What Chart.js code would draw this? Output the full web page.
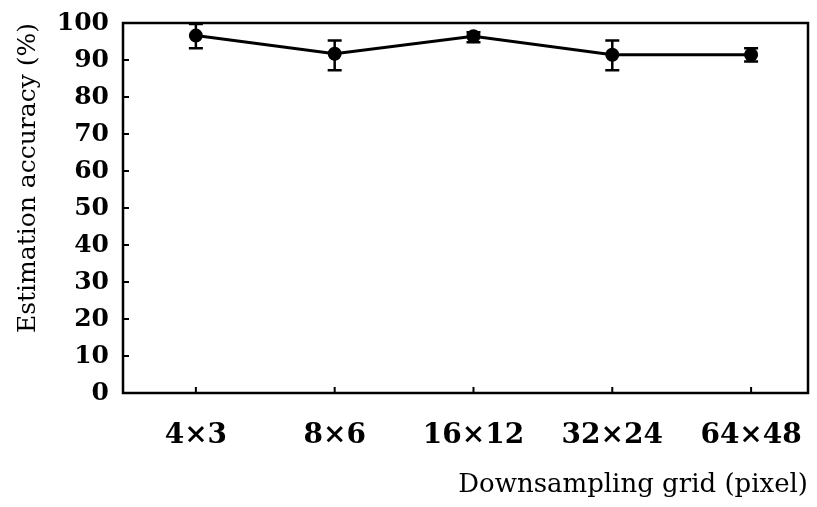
<!DOCTYPE html>
<html>
<head>
<meta charset="utf-8">
<script src="https://cdn.jsdelivr.net/npm/chart.js@4.4.0/dist/chart.umd.min.js"></script>
<style>
  html, body { margin: 0; padding: 0; background: #fff; }
  #wrap { width: 817px; height: 507px; }
</style>
</head>
<body>
<div id="wrap"><canvas id="accChart"></canvas></div>
<script>
var grids = ['4×3', '8×6', '16×12', '32×24', '64×48'];
var accuracy = [96.6, 91.7, 96.4, 91.4, 91.4];
var errHigh = [99.7, 95.3, 97.5, 95.3, 93.2];
var errLow = [93.2, 87.2, 94.8, 87.2, 89.6];
var yTicks = [0, 10, 20, 30, 40, 50, 60, 70, 80, 90, 100];

// error bars, frame and inward tick marks drawn with the chart's scales
var extras = {
    id: 'extras',
    beforeDatasetsDraw: function (chart) {
        var ctx = chart.ctx, xs = chart.scales.x, ys = chart.scales.y;
        ctx.save();
        ctx.strokeStyle = '#000';
        ctx.lineWidth = 2.5;
        for (var i = 0; i < grids.length; i++) {
            var px = xs.getPixelForValue(i);
            var top = ys.getPixelForValue(errHigh[i]);
            var bot = ys.getPixelForValue(errLow[i]);
            ctx.beginPath();
            ctx.moveTo(px, top); ctx.lineTo(px, bot);
            ctx.moveTo(px - 7, top); ctx.lineTo(px + 7, top);
            ctx.moveTo(px - 7, bot); ctx.lineTo(px + 7, bot);
            ctx.stroke();
        }
        ctx.restore();
    },
    afterDraw: function (chart) {
        var ctx = chart.ctx, a = chart.chartArea, xs = chart.scales.x, ys = chart.scales.y;
        ctx.save();
        ctx.strokeStyle = '#000';
        ctx.lineWidth = 2.5;
        ctx.strokeRect(a.left, a.top, a.right - a.left, a.bottom - a.top);
        ctx.lineWidth = 2;
        ctx.beginPath();
        yTicks.forEach(function (v) {
            var py = ys.getPixelForValue(v);
            ctx.moveTo(a.left, py); ctx.lineTo(a.left + 6, py);
        });
        grids.forEach(function (g, i) {
            var px = xs.getPixelForValue(i);
            ctx.moveTo(px, a.bottom); ctx.lineTo(px, a.bottom - 6);
        });
        ctx.stroke();
        ctx.restore();
    }
};

var ctx1 = document.getElementById('accChart').getContext('2d');
var accChart = new Chart(ctx1, {
    type: 'line',
    data: {
        datasets: [{
            label: 'Estimation accuracy',
            data: accuracy.map(function (v, i) { return { x: i, y: v }; }),
            borderColor: '#000',
            backgroundColor: '#000',
            borderWidth: 3,
            pointRadius: 5.5,
            pointBackgroundColor: '#000',
            fill: false,
            tension: 0
        }]
    },
    options: {
        responsive: true,
        maintainAspectRatio: false,
        animation: false,
        layout: { padding: { top: 23, right: 9, bottom: 0, left: 0 } },
        plugins: { legend: { display: false }, tooltip: { enabled: false } },
        scales: {
            x: {
                type: 'linear',
                min: -0.525,
                max: 4.41,
                grid: { display: false, drawTicks: false },
                border: { display: false },
                afterBuildTicks: function (s) {
                    s.ticks = grids.map(function (g, i) { return { value: i }; });
                },
                afterFit: function (s) {
                    s.height = 114;
                    s.paddingLeft = 0;
                    s.paddingRight = 0;
                },
                ticks: {
                    padding: 26,
                    color: '#000',
                    font: { family: 'DejaVu Serif', size: 28, weight: 'bold' },
                    callback: function (v) { return grids[v]; }
                },
                title: {
                    display: true,
                    text: 'Downsampling grid (pixel)',
                    align: 'end',
                    color: '#000',
                    font: { family: 'DejaVu Serif', size: 26 },
                    padding: { top: 0, bottom: 6 }
                }
            },
            y: {
                min: 0,
                max: 100,
                grid: { display: false, drawTicks: false },
                border: { display: false },
                afterBuildTicks: function (s) {
                    s.ticks = yTicks.map(function (v) { return { value: v }; });
                },
                afterFit: function (s) {
                    s.width = 123;
                    s.paddingTop = 0;
                    s.paddingBottom = 0;
                },
                ticks: {
                    padding: 14,
                    color: '#000',
                    font: { family: 'DejaVu Serif', size: 25, weight: 'bold' }
                },
                title: {
                    display: true,
                    text: 'Estimation accuracy (%)',
                    align: 'end',
                    color: '#000',
                    font: { family: 'DejaVu Serif', size: 25 },
                    padding: { top: 13, bottom: 0 }
                }
            }
        }
    },
    plugins: [extras]
});
</script>
</body>
</html>
